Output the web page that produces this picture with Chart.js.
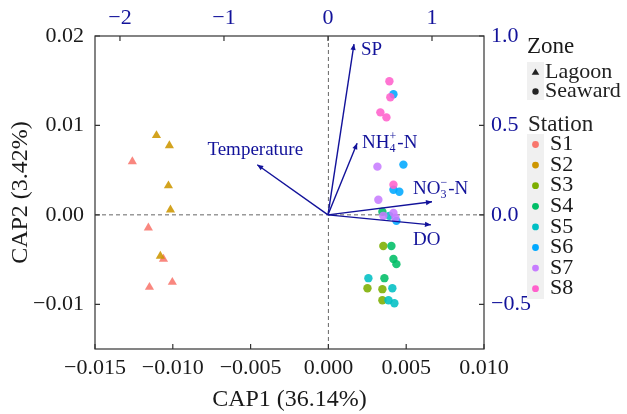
<!DOCTYPE html>
<html>
<head>
<meta charset="utf-8">
<script src="https://cdn.jsdelivr.net/npm/chart.js@4.4.1/dist/chart.umd.min.js"></script>
<style>
  body { margin: 0; background: #fff; }
  #wrap { width: 627px; height: 414px; position: relative; }
</style>
</head>
<body>
<div id="wrap"><canvas id="capChart"></canvas></div>
<script>
// Station scores [CAP1, CAP2]
const stations = ["S1", "S2", "S3", "S4", "S5", "S6", "S7", "S8"];
const stationColors = ["#F8766D", "#CD9600", "#7CAE00", "#00BE67", "#00BFC4", "#00A9FF", "#C77CFF", "#FF61CC"];
const stationZone = ["Lagoon", "Lagoon", "Seaward", "Seaward", "Seaward", "Seaward", "Seaward", "Seaward"];
const zoneLabels = ["Lagoon", "Seaward"];

const s1 = [[-0.0126, 0.00596], [-0.01157, -0.00146], [-0.0106, -0.00494], [-0.01003, -0.00753], [-0.0115, -0.00809]];
const s2 = [[-0.01105, 0.00888], [-0.01022, 0.00775], [-0.01028, 0.00326], [-0.01015, 0.00056], [-0.0108, -0.00461]];
const s3 = [[0.00353, -0.00348], [0.00251, -0.0082], [0.00347, -0.00831], [0.00347, -0.00955]];
const s4 = [[0.00347, 0.00034], [0.00405, -0.00348], [0.00418, -0.00494], [0.00437, -0.00551], [0.0036, -0.00708]];
const s5 = [[0.00392, -0.00011], [0.00257, -0.00708], [0.00411, -0.0082], [0.00386, -0.00955], [0.00424, -0.00989]];
const s6 = [[0.00418, 0.01348], [0.00482, 0.00562], [0.00418, 0.00281], [0.00456, 0.00258], [0.00437, -0.00067]];
const s7 = [[0.00315, 0.00539], [0.00321, 0.00169], [0.00353, -0.00011], [0.00418, 0.00022], [0.00431, -0.00034]];
const s8 = [[0.00392, 0.01494], [0.00398, 0.01315], [0.00334, 0.01146], [0.00373, 0.0109], [0.00418, 0.00337]];
const stationPoints = [s1, s2, s3, s4, s5, s6, s7, s8];

// Environmental vectors (top / right axes)
const envNames = ["SP", "Temperature", "NH_4^+-N", "NO_3^\u2212-N", "DO"];
const envCAP1 = [0.25, -0.68, 0.28, 1.0, 0.99];
const envCAP2 = [0.955, 0.28, 0.40, 0.073, -0.056];

// Tick labels
const xTicks = [-0.015, -0.01, -0.005, 0, 0.005, 0.01];
const yTicks = [-0.01, 0, 0.01, 0.02];
const x2Ticks = [-2, -1, 0, 1];
const y2Ticks = [-0.5, 0, 0.5, 1.0];

const FONT = "'Liberation Serif', 'Times New Roman', serif";
const BLUE = "#12129a";
const INK = "#1a1a1a";
const minus = s => s.replace("-", "\u2212");

// label placement relative to arrow tip [dx, dy, align]
const envLabelPos = [[7, 6, "left"], [-2, -15, "center"], [5, 0, "left"], [-19, -13, "left"], [-18, 15, "left"]];

function drawRich(ctx, s, x, y, align) {
  const segs = [];
  let buf = "";
  for (let i = 0; i < s.length; i++) {
    if (s[i] === "_") {
      if (buf) segs.push({ t: buf });
      buf = "";
      const seg = { sub: s[i + 1], sup: null };
      i += 1;
      if (s[i + 1] === "^") { seg.sup = s[i + 2]; i += 2; }
      segs.push(seg);
    } else buf += s[i];
  }
  if (buf) segs.push({ t: buf });
  const big = "19px " + FONT, small = "12px " + FONT;
  let total = 0;
  segs.forEach(g => {
    if (g.t) { ctx.font = big; g.w = ctx.measureText(g.t).width; }
    else { ctx.font = small; g.w = Math.max(ctx.measureText(g.sub).width, g.sup ? ctx.measureText(g.sup).width : 0) + 1; }
    total += g.w;
  });
  let cx = align === "center" ? x - total / 2 : x;
  ctx.textAlign = "left";
  ctx.textBaseline = "middle";
  segs.forEach(g => {
    if (g.t) { ctx.font = big; ctx.fillText(g.t, cx, y); }
    else {
      ctx.font = small;
      ctx.fillText(g.sub, cx, y + 6);
      if (g.sup) ctx.fillText(g.sup, cx, y - 6);
    }
    cx += g.w;
  });
}

const framePlugin = {
  id: "frame",
  beforeDatasetsDraw(chart) {
    const { ctx, chartArea: a, scales } = chart;
    ctx.save();
    // zero reference lines
    ctx.strokeStyle = "#666";
    ctx.lineWidth = 1;
    ctx.setLineDash([4, 3]);
    const x0 = scales.x.getPixelForValue(0), y0 = scales.y.getPixelForValue(0);
    ctx.beginPath();
    ctx.moveTo(x0, a.top); ctx.lineTo(x0, a.bottom);
    ctx.moveTo(a.left, y0); ctx.lineTo(a.right, y0);
    ctx.stroke();
    ctx.restore();
  },
  afterDatasetsDraw(chart) {
    const { ctx, chartArea: a, scales } = chart;
    ctx.save();
    // arrow heads and labels for vectors
    envNames.forEach((name, i) => {
      const meta = chart.getDatasetMeta(stations.length + i);
      const p0 = meta.data[0], p1 = meta.data[1];
      const ang = Math.atan2(p1.y - p0.y, p1.x - p0.x);
      const L = 6, W = 2.6;
      ctx.fillStyle = BLUE;
      ctx.beginPath();
      ctx.moveTo(p1.x, p1.y);
      ctx.lineTo(p1.x - L * Math.cos(ang) + W * Math.sin(ang), p1.y - L * Math.sin(ang) - W * Math.cos(ang));
      ctx.lineTo(p1.x - L * Math.cos(ang) - W * Math.sin(ang), p1.y - L * Math.sin(ang) + W * Math.cos(ang));
      ctx.closePath();
      ctx.fill();
      const [dx, dy, al] = envLabelPos[i];
      drawRich(ctx, name, p1.x + dx, p1.y + dy, al);
    });
    // frame
    ctx.strokeStyle = "#333";
    ctx.lineWidth = 1.2;
    ctx.strokeRect(a.left, a.top, a.right - a.left, a.bottom - a.top);
    // inward ticks
    const T = 5;
    ctx.beginPath();
    xTicks.forEach(v => { const px = scales.x.getPixelForValue(v); ctx.moveTo(px, a.bottom); ctx.lineTo(px, a.bottom - T); });
    x2Ticks.forEach(v => { const px = scales.x2.getPixelForValue(v); ctx.moveTo(px, a.top); ctx.lineTo(px, a.top + T); });
    yTicks.forEach(v => { const py = scales.y.getPixelForValue(v); ctx.moveTo(a.left, py); ctx.lineTo(a.left + T, py); });
    y2Ticks.forEach(v => { const py = scales.y2.getPixelForValue(v); ctx.moveTo(a.right, py); ctx.lineTo(a.right - T, py); });
    ctx.stroke();
    ctx.restore();
  },
  afterDraw(chart) {
    const ctx = chart.ctx;
    ctx.save();
    ctx.fillStyle = INK;
    ctx.textAlign = "left";
    ctx.textBaseline = "middle";
    ctx.font = "23px " + FONT;
    ctx.fillText("Zone", 527, 47);
    // key backgrounds
    ctx.fillStyle = "#f0f0f0";
    ctx.fillRect(527, 62, 17, 38);
    ctx.fillRect(527, 134, 17, 165);
    // zone keys
    ctx.fillStyle = "#222";
    ctx.font = "22px " + FONT;
    zoneLabels.forEach((lab, i) => {
      const cy = 72 + i * 19.5;
      ctx.beginPath();
      if (lab === "Lagoon") {
        ctx.moveTo(535.5, cy - 3.5); ctx.lineTo(539.3, cy + 2.7); ctx.lineTo(531.7, cy + 2.7); ctx.closePath();
      } else ctx.arc(535.5, cy, 3.2, 0, Math.PI * 2);
      ctx.fill();
      ctx.fillText(lab, 545, cy);
    });
    ctx.font = "23px " + FONT;
    ctx.fillText("Station", 528, 125);
    ctx.font = "22px " + FONT;
    stations.forEach((st, i) => {
      const cy = 144.5 + i * 20.6;
      ctx.fillStyle = stationColors[i];
      ctx.beginPath();
      ctx.arc(535.5, cy, 3.4, 0, Math.PI * 2);
      ctx.fill();
      ctx.fillStyle = INK;
      ctx.fillText(st, 550, cy);
    });
    ctx.restore();
  }
};

const datasets = stations.map((st, i) => ({
  label: st,
  data: stationPoints[i].map(p => ({ x: p[0], y: p[1] })),
  pointStyle: stationZone[i] === "Lagoon" ? "triangle" : "circle",
  pointRadius: stationZone[i] === "Lagoon" ? 5.3 : 4.2,
  backgroundColor: stationColors[i] + "E0",
  borderWidth: 0,
  xAxisID: "x",
  yAxisID: "y",
  order: 20 - i
}));
envNames.forEach((name, i) => {
  datasets.push({
    label: name,
    data: [{ x: 0, y: 0 }, { x: envCAP1[i], y: envCAP2[i] }],
    showLine: true,
    borderColor: BLUE,
    borderWidth: 1.4,
    pointRadius: 0,
    xAxisID: "x2",
    yAxisID: "y2",
    order: 0
  });
});

const tickFont = { family: FONT, size: 22 };
const titleFont = { family: FONT, size: 24 };
const setTicks = arr => s => { s.ticks = arr.map(v => ({ value: v })); };

new Chart(document.getElementById("capChart").getContext("2d"), {
  type: "scatter",
  data: { datasets },
  options: {
    responsive: true,
    maintainAspectRatio: false,
    animation: false,
    layout: { padding: 0 },
    plugins: { legend: { display: false }, tooltip: { enabled: false } },
    scales: {
      x: {
        position: "bottom", min: -0.015, max: 0.01,
        afterBuildTicks: setTicks(xTicks),
        afterFit: s => { s.height = 65; },
        grid: { display: false, drawTicks: false }, border: { display: false },
        ticks: { font: tickFont, color: INK, padding: 6, autoSkip: false, maxRotation: 0,
          callback: v => minus(Number(v).toFixed(3)) },
        title: { display: true, text: "CAP1 (36.14%)", font: titleFont, color: INK, padding: { top: 0, bottom: 0 } }
      },
      x2: {
        position: "top", min: -2.24, max: 1.5,
        afterBuildTicks: setTicks(x2Ticks),
        afterFit: s => { s.height = 36; },
        grid: { display: false, drawTicks: false }, border: { display: false },
        ticks: { font: tickFont, color: BLUE, padding: 5, autoSkip: false, maxRotation: 0,
          callback: v => minus(String(v)) }
      },
      y: {
        position: "left", min: -0.015, max: 0.02,
        afterBuildTicks: setTicks(yTicks),
        afterFit: s => { s.width = 95; },
        grid: { display: false, drawTicks: false }, border: { display: false },
        ticks: { font: tickFont, color: INK, padding: 11, autoSkip: false,
          callback: v => minus(Number(v).toFixed(2)) },
        title: { display: true, text: "CAP2 (3.42%)", font: titleFont, color: INK, padding: { top: 6, bottom: 0 } }
      },
      y2: {
        position: "right", min: -0.75, max: 1.0,
        afterBuildTicks: setTicks(y2Ticks),
        afterFit: s => { s.width = 143; },
        grid: { display: false, drawTicks: false }, border: { display: false },
        ticks: { font: tickFont, color: BLUE, padding: 7, autoSkip: false,
          callback: v => minus(Number(v).toFixed(1)) }
      }
    }
  },
  plugins: [framePlugin]
});
</script>
</body>
</html>
